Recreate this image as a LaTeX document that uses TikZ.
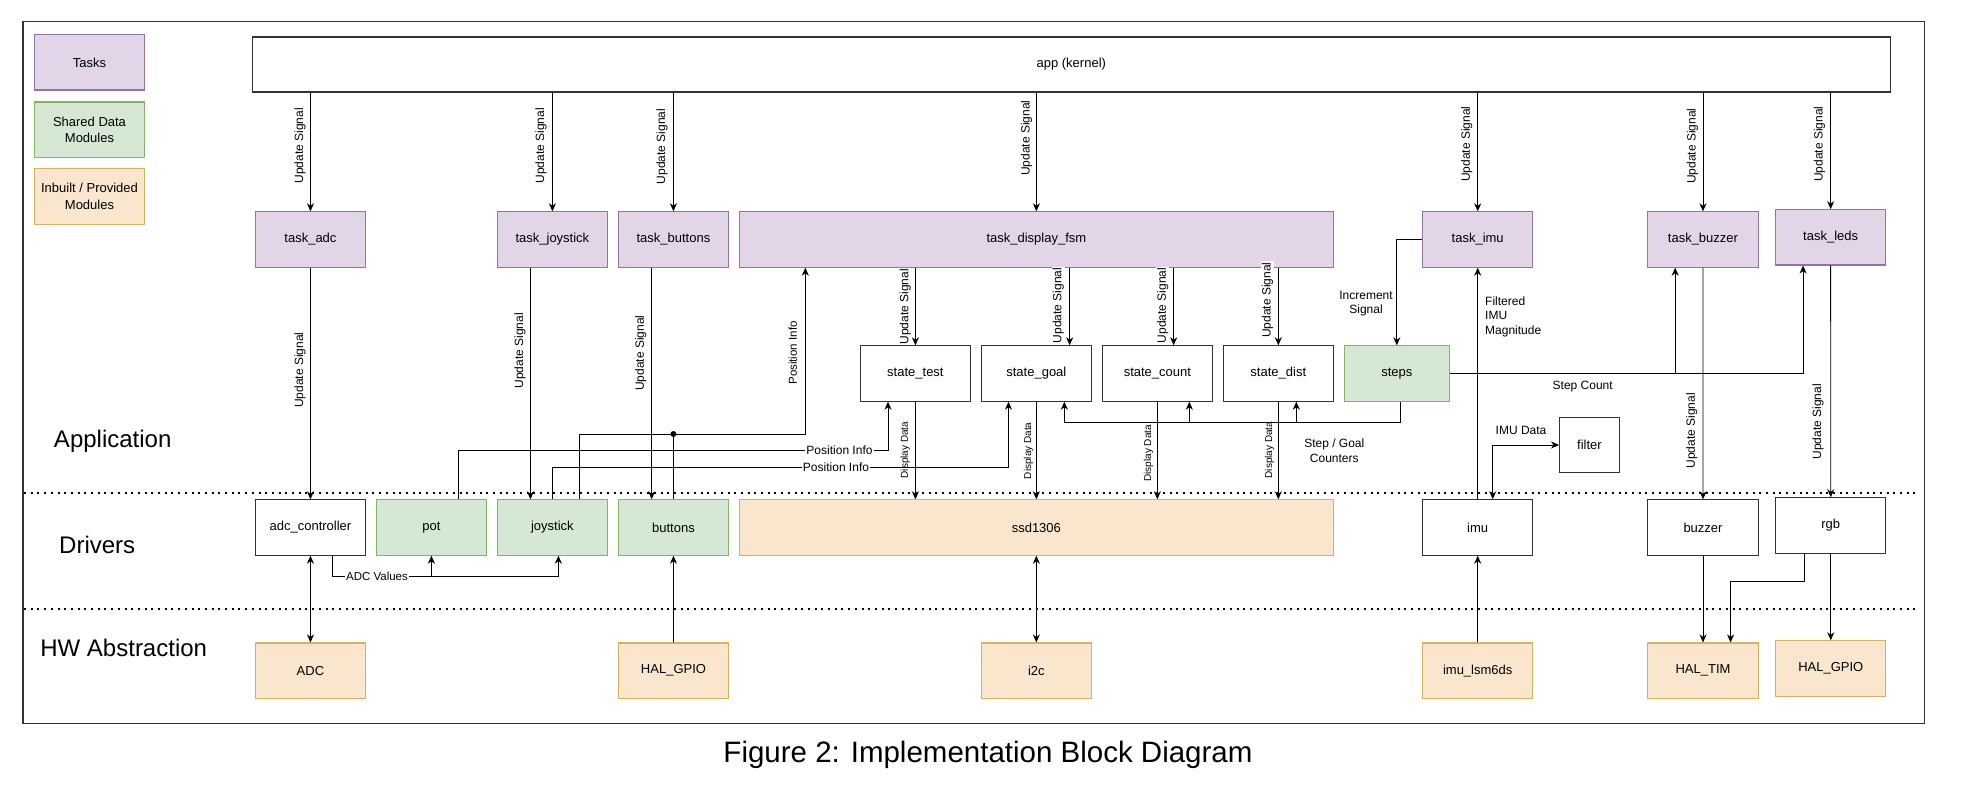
\documentclass[tikz,border=0pt]{standalone}
\usepackage{fontspec}
\setmainfont{Liberation Sans}
\usetikzlibrary{arrows.meta,calc}
\definecolor{taskfill}{HTML}{E1D5E7}
\definecolor{taskdraw}{HTML}{9673A6}
\definecolor{sharedfill}{HTML}{D5E8D4}
\definecolor{shareddraw}{HTML}{82B366}
\definecolor{hwfill}{HTML}{FAE6CD}
\definecolor{hwdraw}{HTML}{D9B25F}
\definecolor{edgegray}{HTML}{333333}
\begin{document}
\begin{tikzpicture}[x=1pt,y=-1pt,
  blk/.style={draw, line width=1.1pt, minimum width=110.3pt, minimum height=55.3pt, inner sep=0pt, align=center, font=\fontsize{13}{16.5}\selectfont},
  taskbox/.style={blk, fill=taskfill, draw=taskdraw},
  sharedbox/.style={blk, fill=sharedfill, draw=shareddraw},
  hwbox/.style={blk, fill=hwfill, draw=hwdraw},
  plainbox/.style={blk, fill=white, draw=edgegray},
  conn/.style={line width=0.9pt, draw=black},
  arr/.style={conn, -{Stealth[length=8pt,width=7pt,inset=2.5pt]}},
  darr/.style={conn, {Stealth[length=8pt,width=7pt,inset=2.5pt]}-{Stealth[length=8pt,width=7pt,inset=2.5pt]}},
  lblv/.style={rotate=90, font=\fontsize{12}{14}\selectfont, fill=white, inner sep=1pt},
  lbldd/.style={rotate=90, font=\fontsize{10}{12}\selectfont, fill=white, inner sep=1pt},
  lblh/.style={font=\fontsize{12}{14.5}\selectfont, fill=white, inner sep=1pt, align=center},
  layer/.style={font=\fontsize{24}{28}\selectfont},
  sepline/.style={line width=2pt, dash pattern=on 2pt off 4.7pt},
]
\useasboundingbox (0,0) rectangle (1964,796);
\fill[white] (0,0) rectangle (1964,796);
% frame
\draw[line width=1.2pt, draw=edgegray] (23,21.7) rectangle (1924.3,723.3);
% separators
\coordinate (s1a) at (24,493); \coordinate (s1b) at (1920,493);
\coordinate (s2a) at (24,609); \coordinate (s2b) at (1920,609);
\draw[sepline] (s1a) -- (s1b);
\draw[sepline] (s2a) -- (s2b);

% legend
\node[taskbox] (leg_tasks) at (89.5,62.35) {Tasks};
\node[sharedbox] (leg_shared) at (89.5,129.65) {Shared Data\\Modules};
\node[hwbox] (leg_hw) at (89.5,196.5) {Inbuilt / Provided\\Modules};

% layer labels
\node[layer] (lapp) at (112.7,441) {Application};
\node[layer] (ldrv) at (97.2,545) {Drivers};
\node[layer] (lhw) at (123.7,648.3) {HW Abstraction};
\node[font=\fontsize{29.5}{34}\selectfont] (caption) at (988,755) {Figure 2: Implementation Block Diagram};

% app
\node[plainbox, minimum width=1638.2pt, minimum height=55pt] (app) at (1071.3,64.5) {app (kernel)};

% tasks
\node[taskbox] (task_adc) at (310.45,239.5) {task\_adc};
\node[taskbox] (task_joystick) at (552.4,239.5) {task\_joystick};
\node[taskbox] (task_buttons) at (673.45,239.5) {task\_buttons};
\node[taskbox, minimum width=594.1pt] (task_display_fsm) at (1036.35,239.5) {task\_display\_fsm};
\node[taskbox] (task_imu) at (1477.7,239.5) {task\_imu};
\node[taskbox] (task_buzzer) at (1702.95,239.5) {task\_buzzer};
\node[taskbox] (task_leds) at (1830.65,237.35) {task\_leds};

% states
\node[plainbox] (state_test) at (915.4,373.5) {state\_test};
\node[plainbox] (state_goal) at (1036.35,373.5) {state\_goal};
\node[plainbox] (state_count) at (1157.35,373.5) {state\_count};
\node[plainbox] (state_dist) at (1278.3,373.5) {state\_dist};
\node[sharedbox, minimum width=105pt] (steps) at (1396.8,373.5) {steps};
\node[plainbox, minimum width=59.7pt] (filter) at (1589.45,445) {filter};

% drivers
\node[plainbox] (adc_controller) at (310.45,527.5) {adc\_controller};
\node[sharedbox] (pot) at (431.4,527.5) {pot};
\node[sharedbox] (joystick) at (552.4,527.5) {joystick};
\node[sharedbox] (buttons) at (673.45,527.5) {buttons};
\node[hwbox, minimum width=594.1pt] (ssd1306) at (1036.35,527.5) {ssd1306};
\node[plainbox] (imu) at (1477.7,527.5) {imu};
\node[plainbox] (buzzer) at (1703,527.5) {buzzer};
\node[plainbox] (rgb) at (1830.75,525.5) {rgb};

% hw abstraction
\node[hwbox] (ADC) at (310.45,670.65) {ADC};
\node[hwbox] (hal_gpio_a) at (673.5,670.65) {HAL\_GPIO};
\node[hwbox] (i2c) at (1036.35,670.65) {i2c};
\node[hwbox] (imu_lsm6ds) at (1477.7,670.65) {imu\_lsm6ds};
\node[hwbox] (hal_tim) at (1703,670.65) {HAL\_TIM};
\node[hwbox] (hal_gpio_b) at (1830.75,668.5) {HAL\_GPIO};

% app -> tasks
\draw[arr] (app.south -| task_adc.north) -- (task_adc.north);
\draw[arr] (app.south -| task_joystick.north) -- (task_joystick.north);
\draw[arr] (app.south -| task_buttons.north) -- (task_buttons.north);
\draw[arr] (app.south -| task_display_fsm.north) -- (task_display_fsm.north);
\draw[arr] (app.south -| task_imu.north) -- (task_imu.north);
\draw[arr] (app.south -| task_buzzer.north) -- (task_buzzer.north);
\draw[arr] (app.south -| task_leds.north) -- (task_leds.north);
\node[lblv] (u1) at (300,145.7) {Update Signal};
\node[lblv] (u2) at (541,145.7) {Update Signal};
\node[lblv] (u3) at (662,146.5) {Update Signal};
\node[lblv] (u4) at (1026.6,138) {Update Signal};
\node[lblv] (u5) at (1466.8,144) {Update Signal};
\node[lblv] (u6) at (1692.4,146) {Update Signal};
\node[lblv] (u7) at (1819.5,144) {Update Signal};

% tasks -> drivers
\draw[arr] (task_adc.south) -- (adc_controller.north);
\node[lblv] (u8) at (300,370) {Update Signal};
\coordinate (tj_out) at ([xshift=-22pt]task_joystick.south);
\draw[arr] (tj_out) -- (tj_out |- joystick.north);
\node[lblv] (u9) at (520,350.8) {Update Signal};
\coordinate (tb_out) at ([xshift=-21.8pt]task_buttons.south);
\draw[arr] (tb_out) -- (tb_out |- buttons.north);
\node[lblv] (u10) at (640.8,353) {Update Signal};

% fsm -> states
\draw[arr] (task_display_fsm.south -| state_test.north) -- (state_test.north);
\coordinate (g_in) at ([xshift=33.3pt]state_goal.north);
\draw[arr] (task_display_fsm.south -| g_in) -- (g_in);
\coordinate (c_in) at ([xshift=16.3pt]state_count.north);
\draw[arr] (task_display_fsm.south -| c_in) -- (c_in);
\draw[arr] (task_display_fsm.south -| state_dist.north) -- (state_dist.north);
\node[lblv] (u11) at (905.3,306.7) {Update Signal};
\node[lblv] (u12) at (1058.3,305.5) {Update Signal};
\node[lblv] (u13) at (1162.8,305.5) {Update Signal};
\node[lblv] (u14) at (1267.6,300) {Update Signal};

% states -> ssd1306
\draw[arr] (state_test.south) -- (state_test.south |- ssd1306.north);
\draw[arr] (state_goal.south) -- (state_goal.south |- ssd1306.north);
\draw[arr] (state_count.south) -- (state_count.south |- ssd1306.north);
\draw[arr] (state_dist.south) -- (state_dist.south |- ssd1306.north);
\node[lbldd] (d1) at (905.3,450) {Display Data};
\node[lbldd] (d2) at (1028.5,450.8) {Display Data};
\node[lbldd] (d3) at (1148.6,453.3) {Display Data};
\node[lbldd] (d4) at (1269.6,450) {Display Data};

% position info
\coordinate (pi1) at (805.3,434);
\coordinate (pidot) at (673.45,434);
\draw[arr] ([xshift=27.3pt]joystick.north) |- (pi1) -- (pi1 |- task_display_fsm.south);
\draw[conn] (buttons.north) -- (pidot);
\fill (pidot) circle (3pt);
\node[lblv, font=\fontsize{11.5}{14}\selectfont] (p1) at (792.8,353) {Position Info};
\coordinate (pt1) at (888,450.7);
\draw[arr] ([xshift=27pt]pot.north) |- (pt1) -- (pt1 |- state_test.south);
\node[lblh] (p2) at (839.5,450.7) {Position Info};
\coordinate (pg1) at (1008.5,467.2);
\draw[arr] (joystick.north) |- (pg1) -- (pg1 |- state_goal.south);
\node[lblh] (p3) at (836,467.2) {Position Info};

% ADC values
\coordinate (adcv) at (332.6,576.7);
\coordinate (js_in) at ([xshift=6pt]joystick.south);
\draw[arr] ([xshift=22.15pt]adc_controller.south) |- (js_in |- adcv) -- (js_in);
\draw[arr] (pot.south |- adcv) -- (pot.south);
\node[lblh, font=\fontsize{11.5}{14}\selectfont] (av) at (377,576.7) {ADC Values};

% drivers <-> hw
\draw[darr] (adc_controller.south) -- (ADC.north);
\draw[arr] (hal_gpio_a.north) -- (buttons.south);
\draw[darr] (ssd1306.south) -- (i2c.north);
\draw[arr] (imu_lsm6ds.north) -- (imu.south);
\draw[arr] (buzzer.south) -- (hal_tim.north);
\draw[arr] (rgb.south) -- (hal_gpio_b.north);
\coordinate (rt1) at ([xshift=-26.5pt]rgb.south);
\coordinate (rt2) at ([xshift=27.6pt]hal_tim.north);
\coordinate (rtm) at (1800,581.3);
\draw[arr] (rt1) -- (rt1 |- rtm) -| (rt2);

% imu
\draw[arr] (imu.north) -- (task_imu.south);
\node[lblh, align=left, anchor=west, fill=none] (fim) at (1484,316.7) {Filtered\\IMU\\Magnitude};
\coordinate (imud) at (1492.7,442.7);
\draw[darr] (filter.west) -| (imud |- imu.north);
\node[lblh, fill=none] (imdl) at (1521,430.7) {IMU Data};

% increment
\draw[arr] (task_imu.west) -| (steps.north);
\node[lblh, fill=none] (incl) at (1366,303.7) {Increment\\Signal};

% step count
\coordinate (bz_in) at ([xshift=-27.8pt]task_buzzer.south);
\coordinate (ld_in) at ([xshift=-27.6pt]task_leds.south);
\draw[arr] (steps.east) -| (ld_in);
\draw[arr] (steps.east -| bz_in) -- (bz_in);
\node[lblh, fill=none] (scl) at (1582.7,386.7) {Step Count};

% step / goal counters
\coordinate (cnt) at (1400.8,422.7);
\coordinate (g_cnt) at ([xshift=28pt]state_goal.south);
\coordinate (c_cnt) at ([xshift=32pt]state_count.south);
\coordinate (d_cnt) at ([xshift=18pt]state_dist.south);
\draw[arr] ([xshift=4pt]steps.south) |- (g_cnt |- cnt) -- (g_cnt);
\draw[arr] (c_cnt |- cnt) -- (c_cnt);
\draw[arr] (d_cnt |- cnt) -- (d_cnt);
\node[lblh, fill=none] (sgc) at (1334.3,450.8) {Step / Goal\\Counters};

% buzzer / leds update
\draw[arr] (task_buzzer.south) -- (buzzer.north);
\node[lblv] (u15) at (1691.7,430.7) {Update Signal};
\draw[arr] (task_leds.south) -- (rgb.north);
\node[lblv] (u16) at (1818,421.7) {Update Signal};
\end{tikzpicture}
\end{document}
